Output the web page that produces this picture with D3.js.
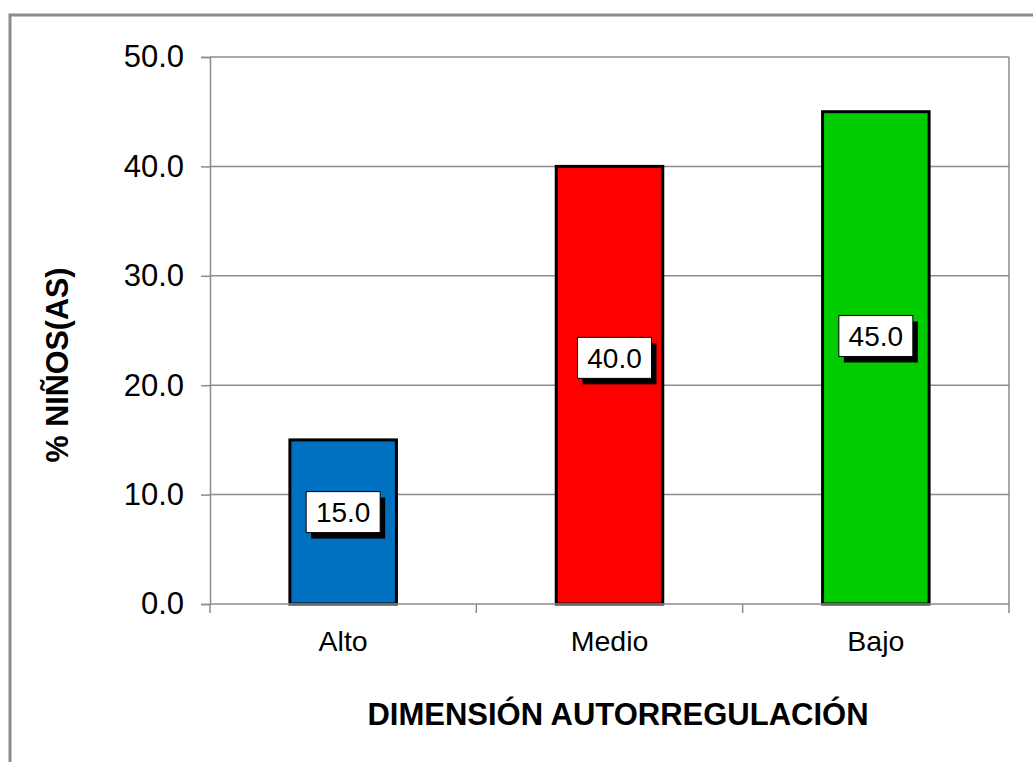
<!DOCTYPE html>
<html>
<head>
<meta charset="utf-8">
<script src="https://cdn.jsdelivr.net/npm/d3@7"></script>
<style>
  html, body { margin: 0; padding: 0; background: #fff; }
  svg { display: block; font-family: "Liberation Sans", Arial, sans-serif; }
</style>
</head>
<body>
<svg id="chart" width="1033" height="762"></svg>
<script>
// ---- data ----
const categories = ["Alto", "Medio", "Bajo"];
const values = [15.0, 40.0, 45.0];
const barColors = ["#0070C0", "#FF0000", "#00CC00"];
const yTicks = [0, 10, 20, 30, 40, 50];
const labelAnchors = [8.4, 22.5, 24.5];   // data-unit y where each value label sits
const xTitle = "DIMENSIÓN AUTORREGULACIÓN";
const yTitle = "% NIÑOS(AS)";

// ---- layout ----
const W = 1033, H = 762;
const plot = { left: 210, right: 1009, top: 57, bottom: 604 };
const svg = d3.select("#chart");

// outer chart border (extends beyond the viewport at right/bottom)
svg.append("rect")
  .attr("x", 10).attr("y", 15)
  .attr("width", 1040).attr("height", 760)
  .attr("fill", "#fff")
  .attr("stroke", "#8c8c8c").attr("stroke-width", 3);

const x = d3.scaleBand()
  .domain(categories)
  .range([plot.left, plot.right])
  .paddingInner(0.6).paddingOuter(0.3);

const y = d3.scaleLinear().domain([0, 50]).range([plot.bottom, plot.top]);

// gridlines
svg.append("g").selectAll("line")
  .data(yTicks.filter(t => t > 0))
  .join("line")
  .attr("x1", plot.left).attr("x2", plot.right)
  .attr("y1", d => y(d)).attr("y2", d => y(d))
  .attr("stroke", "#8c8c8c").attr("stroke-width", 1.5);

// right border of plot area
svg.append("line")
  .attr("x1", plot.right).attr("x2", plot.right)
  .attr("y1", plot.top).attr("y2", plot.bottom)
  .attr("stroke", "#8c8c8c").attr("stroke-width", 1.5);

// y axis
const yAxis = d3.axisLeft(y).tickValues(yTicks).tickFormat(d3.format(".1f"))
  .tickSize(9).tickPadding(17);
const gy = svg.append("g").attr("transform", `translate(${plot.left},0)`).call(yAxis);
gy.select(".domain").attr("stroke", "#8c8c8c").attr("stroke-width", 1.5);
gy.selectAll(".tick line").attr("stroke", "#8c8c8c").attr("stroke-width", 1.5);
gy.selectAll(".tick text")
  .attr("font-size", 31).attr("fill", "#000")
  .attr("font-family", "Liberation Sans, Arial, sans-serif");

// bars
svg.append("g").selectAll("rect")
  .data(values)
  .join("rect")
  .attr("x", (d, i) => x(categories[i]))
  .attr("y", d => y(d))
  .attr("width", x.bandwidth())
  .attr("height", d => y(0) - y(d))
  .attr("fill", (d, i) => barColors[i])
  .attr("stroke", "#000").attr("stroke-width", 3);

// x axis (boundary ticks)
const step = x.step();
const boundaries = d3.range(categories.length + 1).map(i => plot.left + i * step);
svg.append("line")
  .attr("x1", plot.left).attr("x2", plot.right)
  .attr("y1", plot.bottom).attr("y2", plot.bottom)
  .attr("stroke", "#8c8c8c").attr("stroke-width", 1.5);
svg.append("g").selectAll("line")
  .data(boundaries)
  .join("line")
  .attr("x1", d => d).attr("x2", d => d)
  .attr("y1", plot.bottom).attr("y2", plot.bottom + 9)
  .attr("stroke", "#8c8c8c").attr("stroke-width", 1.5);

svg.append("g").selectAll("text")
  .data(categories)
  .join("text")
  .attr("x", d => x(d) + x.bandwidth() / 2)
  .attr("y", 651)
  .attr("text-anchor", "middle")
  .attr("font-size", 28.5)
  .attr("fill", "#000")
  .text(d => d);

// value labels with shadow boxes
const lw = 74, lh = 41;
const lg = svg.append("g").selectAll("g")
  .data(values)
  .join("g")
  .attr("transform", (d, i) => `translate(${x(categories[i]) + x.bandwidth() / 2 + (i === 1 ? 5 : 0)},${y(labelAnchors[i])})`);
lg.append("rect")
  .attr("x", -lw / 2 + 5).attr("y", -lh / 2 + 6)
  .attr("width", lw).attr("height", lh)
  .attr("fill", "#000");
lg.append("rect")
  .attr("x", -lw / 2).attr("y", -lh / 2)
  .attr("width", lw).attr("height", lh)
  .attr("fill", "#fff").attr("stroke", "#000").attr("stroke-width", 1);
lg.append("text")
  .attr("x", 0).attr("y", 10)
  .attr("text-anchor", "middle")
  .attr("font-size", 28)
  .attr("fill", "#000")
  .text(d => d3.format(".1f")(d));

// axis titles
svg.append("text")
  .attr("x", 618).attr("y", 725)
  .attr("text-anchor", "middle")
  .attr("font-size", 31).attr("font-weight", "bold")
  .attr("fill", "#000")
  .text(xTitle);

svg.append("text")
  .attr("transform", "translate(68,365) rotate(-90)")
  .attr("text-anchor", "middle")
  .attr("font-size", 30.5).attr("font-weight", "bold")
  .attr("fill", "#000")
  .text(yTitle);
</script>
</body>
</html>
